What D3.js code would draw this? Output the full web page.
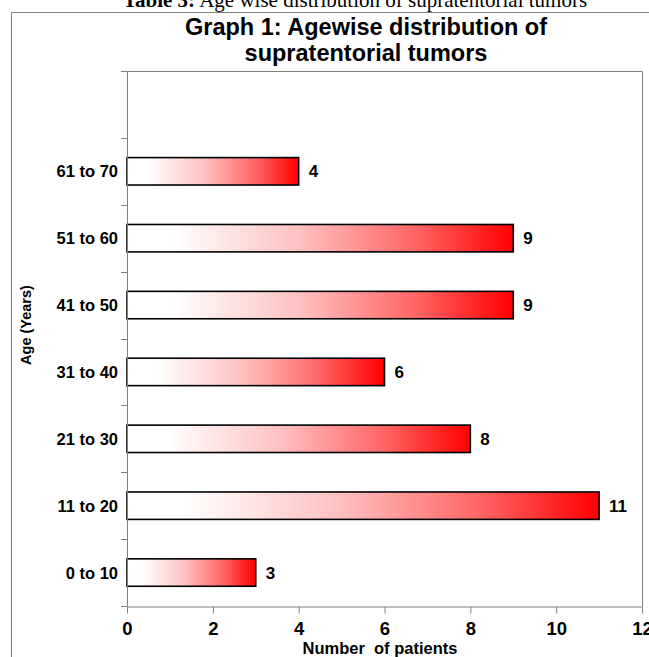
<!DOCTYPE html>
<html>
<head>
<meta charset="utf-8">
<script src="https://cdn.jsdelivr.net/npm/d3@7/dist/d3.min.js"></script>
<style>
  html, body { margin: 0; padding: 0; background: #fff; }
  svg { display: block; }
</style>
</head>
<body>
<svg id="chart" width="649" height="657"></svg>
<script>
// ---- data ----
const categories = ["0 to 10", "11 to 20", "21 to 30", "31 to 40", "41 to 50", "51 to 60", "61 to 70", ""];
const values = [3, 11, 8, 6, 9, 9, 4, null];
const xTicks = [0, 2, 4, 6, 8, 10, 12];
const captionBold = "Table 3:";
const captionRest = " Age wise distribution of supratentorial tumors";
const titleLines = ["Graph 1: Agewise distribution of", "supratentorial tumors"];
const xTitle = "Number  of patients";
const yTitle = "Age (Years)";

// ---- layout ----
const W = 649, H = 657;
const plot = { left: 127, right: 642, top: 71, bottom: 606 };
const svg = d3.select("#chart");
const font = "'Liberation Sans', Arial, sans-serif";

const x = d3.scaleLinear().domain([0, 12]).range([plot.left, plot.right]);
const y = d3.scaleBand().domain(categories).range([plot.bottom, plot.top]).paddingInner(0).paddingOuter(0);

// gradient
const defs = svg.append("defs");
const grad = defs.append("linearGradient").attr("id", "barGrad")
  .attr("x1", "0%").attr("x2", "100%").attr("y1", "0%").attr("y2", "0%");
[[0, "#ffffff"], [0.12, "#ffffff"], [0.45, "#ffc0c0"], [0.75, "#ff6464"], [1, "#ff0000"]]
  .forEach(([o, c]) => grad.append("stop").attr("offset", o).attr("stop-color", c));

// caption
const cap = svg.append("text").attr("x", 355).attr("y", 7).attr("text-anchor", "middle")
  .attr("font-family", "'Liberation Serif', 'Times New Roman', serif").attr("font-size", 21).attr("fill", "#000");
cap.append("tspan").attr("font-weight", "bold").text(captionBold);
cap.append("tspan").text(captionRest);

// outer frame
svg.append("path").attr("d", `M11.5,${H} V12.5 H${W}`).attr("fill", "none").attr("stroke", "#808080").attr("stroke-width", 1);

// title
titleLines.forEach((t, i) => {
  svg.append("text").attr("x", 366).attr("y", 35 + i * 26).attr("text-anchor", "middle")
    .attr("font-family", font).attr("font-weight", "bold").attr("font-size", 23.5).attr("fill", "#000").text(t);
});

// plot border (top & right)
svg.append("path").attr("d", `M${plot.left},${plot.top + 0.5} H${plot.right + 0.5} V${plot.bottom}`)
  .attr("fill", "none").attr("stroke", "#808080").attr("stroke-width", 1);

// bars
const barH = y.bandwidth() * 0.41;
const data = categories.map((c, i) => ({ c, v: values[i] })).filter(d => d.v != null);
svg.append("g").selectAll("rect").data(data).join("rect")
  .attr("x", x(0))
  .attr("y", d => y(d.c) + (y.bandwidth() - barH) / 2)
  .attr("width", d => x(d.v) - x(0))
  .attr("height", barH)
  .attr("fill", "url(#barGrad)")
  .attr("stroke", "#000").attr("stroke-width", 1.6);

// value labels
svg.append("g").selectAll("text").data(data).join("text")
  .attr("x", d => x(d.v) + 10)
  .attr("y", d => y(d.c) + y.bandwidth() / 2)
  .attr("dy", "0.36em")
  .attr("font-family", font).attr("font-weight", "bold").attr("font-size", 17).attr("fill", "#000")
  .text(d => d.v);

// y axis (ticks at band boundaries)
const yb = svg.append("g");
yb.append("line").attr("x1", plot.left + 0.5).attr("x2", plot.left + 0.5).attr("y1", plot.top).attr("y2", plot.bottom)
  .attr("stroke", "#808080");
const bounds = categories.map(c => y(c)).concat([plot.bottom]);
yb.selectAll("line.t").data(bounds).join("line").attr("class", "t")
  .attr("x1", plot.left - 6).attr("x2", plot.left).attr("y1", d => Math.round(d) + 0.5).attr("y2", d => Math.round(d) + 0.5)
  .attr("stroke", "#808080");
yb.selectAll("text").data(categories).join("text")
  .attr("x", plot.left - 9).attr("y", d => y(d) + y.bandwidth() / 2).attr("dy", "0.36em")
  .attr("text-anchor", "end").attr("font-family", font).attr("font-weight", "bold").attr("font-size", 16.5)
  .attr("fill", "#000").text(d => d);

// x axis
const xAxis = d3.axisBottom(x).tickValues(xTicks).tickSize(7).tickPadding(8).tickSizeOuter(0);
const xg = svg.append("g").attr("transform", `translate(0,${plot.bottom + 0.5})`).call(xAxis);
xg.select(".domain").attr("stroke", "#808080");
xg.selectAll(".tick line").attr("stroke", "#808080");
xg.selectAll(".tick text").attr("font-family", font).attr("font-weight", "bold").attr("font-size", 18.5).attr("fill", "#000");

// axis titles
svg.append("text").attr("x", 380).attr("y", 654).attr("text-anchor", "middle")
  .attr("font-family", font).attr("font-weight", "bold").attr("font-size", 16.5).attr("fill", "#000")
  .attr("xml:space", "preserve").style("white-space", "pre").text(xTitle);
svg.append("text").attr("transform", "translate(31,325) rotate(-90)").attr("text-anchor", "middle")
  .attr("font-family", font).attr("font-weight", "bold").attr("font-size", 14.5).attr("fill", "#000").text(yTitle);
</script>
</body>
</html>
